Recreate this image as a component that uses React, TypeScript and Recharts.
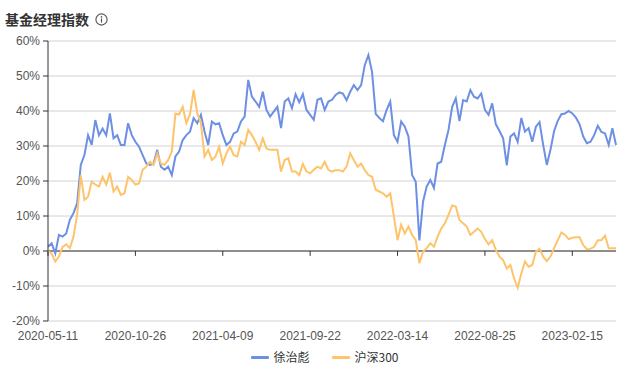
import { LineChart, Line, XAxis, YAxis, CartesianGrid, ReferenceLine } from "recharts";

const TITLE = "基金经理指数";
const SERIES_NAMES = ["徐治彪", "沪深300"];
const COLORS = ["#6d8fe4", "#fdc46c"];

const X_TICKS = [0, 24, 48, 72, 96, 120, 144];
const X_LABELS = ["2020-05-11", "2020-10-26", "2021-04-09", "2021-09-22", "2022-03-14", "2022-08-25", "2023-02-15"];
const Y_TICKS = [-20, -10, 0, 10, 20, 30, 40, 50, 60];

// 徐治彪 (%)
const MANAGER = [
  1.2, 2.2, -0.7, 4.6, 4.1, 5.0, 8.9, 10.8, 13.6, 24.6, 27.4, 33.1, 30.3, 37.4, 33.1, 35.0, 33.1, 39.3, 32.2, 33.1,
  30.3, 30.3, 36.5, 33.1, 31.2, 29.8, 27.4, 25.0, 24.6, 25.0, 28.9, 24.1, 23.2, 24.1, 21.7, 27.0, 28.4, 31.7, 33.1, 34.1,
  38.0, 36.5, 38.9, 34.1, 30.3, 37.0, 36.2, 36.5, 33.1, 30.3, 31.2, 33.6, 34.1, 37.0, 38.4, 48.9, 44.1, 42.7, 41.2, 45.5,
  40.3, 38.4, 39.8, 41.2, 35.1, 42.7, 43.6, 40.8, 44.8, 42.5, 44.8, 40.3, 38.9, 37.5, 43.2, 43.6, 40.3, 42.7, 43.2, 44.6,
  45.3, 45.0, 43.1, 45.5, 47.4, 46.0, 47.4, 53.1, 56.0, 51.2, 39.2, 38.0, 37.1, 40.3, 42.7, 33.1, 31.2, 37.0, 35.5, 32.7,
  21.7, 19.8, 3.0, 14.1, 18.4, 20.3, 18.0, 25.0, 25.5, 30.3, 34.6, 41.2, 43.6, 37.1, 43.1, 42.7, 46.0, 44.1, 43.6, 45.0,
  40.3, 38.9, 42.2, 36.2, 34.3, 32.2, 24.5, 32.7, 33.6, 31.2, 38.0, 34.1, 35.1, 31.2, 35.5, 36.8, 30.3, 24.6, 28.9, 34.3,
  37.2, 39.1, 39.3, 40.0, 39.3, 38.1, 36.2, 32.7, 30.8, 31.2, 33.1, 35.8, 34.0, 33.6, 30.3, 35.1, 30.3,
];

// 沪深300 (%)
const CSI300 = [
  0, -0.7, -3.0, -1.6, 1.2, 1.9, 0.8, 4.1, 10.3, 21.7, 14.6, 15.5, 19.8, 19.0, 18.4, 21.2, 19.0, 22.4, 17.0, 18.4,
  16.0, 16.5, 21.2, 20.3, 19.0, 19.3, 23.2, 24.1, 25.5, 24.6, 27.9, 25.0, 24.6, 26.0, 28.4, 39.3, 39.0, 41.2, 36.5, 39.0,
  46.0, 39.3, 36.5, 27.0, 28.9, 26.0, 27.0, 29.8, 25.0, 27.9, 29.8, 27.4, 27.0, 31.2, 30.3, 34.6, 33.1, 31.2, 28.9, 32.2,
  29.3, 28.9, 28.9, 28.9, 22.7, 26.0, 26.5, 22.7, 22.7, 21.7, 24.9, 22.7, 22.2, 23.2, 24.1, 23.6, 25.5, 23.2, 22.7, 23.1,
  23.1, 22.7, 24.1, 27.9, 26.0, 24.1, 25.0, 23.1, 21.7, 21.2, 17.5, 17.0, 16.5, 15.5, 16.5, 9.8, 3.1, 7.5, 5.0, 7.0,
  4.6, 3.1, -3.5, -0.2, 0.8, 2.2, 1.2, 4.1, 6.4, 7.9, 10.3, 13.0, 12.7, 8.9, 7.9, 7.0, 4.6, 5.5, 6.4, 5.5,
  3.4, 1.9, 3.1, 0.3, -1.6, -2.6, -5.0, -4.0, -7.8, -10.5, -6.4, -3.0, -4.5, -4.0, -0.2, 0.6, -1.6, -2.9, -1.6, 0.8,
  3.1, 5.3, 4.6, 3.4, 3.8, 3.9, 3.9, 1.7, 0.5, 0.6, 1.2, 3.1, 3.1, 4.4, 0.8, 0.8, 0.8,
];

const FONT = '"Noto Sans CJK SC", "Noto Sans", sans-serif';
const NUM_FONT = '"Liberation Sans", "DejaVu Sans", sans-serif';

const data = MANAGER.map((v, i) => ({ i, manager: v, csi: CSI300[i] }));

function XTick(props: any) {
  const { x, y, payload } = props;
  const label = X_LABELS[X_TICKS.indexOf(payload.value)];
  return (
    <text x={x} y={y} dy={11} textAnchor="middle" fill="#555" fontSize={12} fontFamily={NUM_FONT}>
      {label}
    </text>
  );
}

export default function App() {
  return (
    <div style={{ position: "relative", width: 633, height: 377, background: "#fff", fontFamily: FONT }}>
      <style>{"body{margin:0}"}</style>
      <div style={{ position: "absolute", left: 5, top: 9, display: "flex", alignItems: "center", gap: 6 }}>
        <span style={{ fontSize: 14, fontWeight: 700, color: "#333", lineHeight: "20px" }}>{TITLE}</span>
        <svg width={13} height={13} viewBox="0 0 13 13">
          <circle cx={6.5} cy={6.5} r={5.6} fill="none" stroke="#555" strokeWidth={1.1} />
          <circle cx={6.5} cy={3.9} r={0.8} fill="#555" />
          <rect x={5.9} y={5.4} width={1.2} height={4.2} fill="#555" />
        </svg>
      </div>
      <LineChart width={633} height={377} data={data} margin={{ top: 41, right: 17, bottom: 31, left: 0 }}>
        <CartesianGrid vertical={false} stroke="#d2d2d2" />
        <XAxis
          dataKey="i"
          type="number"
          domain={[0, MANAGER.length - 1]}
          ticks={X_TICKS}
          tick={<XTick />}
          axisLine={false}
          tickLine={false}
          height={25}
          interval={0}
        />
        <YAxis
          type="number"
          domain={[-20, 60]}
          ticks={Y_TICKS}
          width={48}
          tickFormatter={(v: number) => `${v}%`}
          tick={{ fill: "#555", fontSize: 12, fontFamily: NUM_FONT }}
          axisLine={{ stroke: "#333" }}
          tickLine={{ stroke: "#333" }}
          tickSize={5}
          tickMargin={3}
          interval={0}
        />
        <ReferenceLine y={0} stroke="#333" />
        {X_TICKS.map((t) => (
          <ReferenceLine
            key={t}
            segment={[
              { x: t, y: 0 },
              { x: t, y: -1.4 },
            ]}
            stroke="#333"
          />
        ))}
        <Line
          type="linear"
          dataKey="manager"
          name={SERIES_NAMES[0]}
          stroke={COLORS[0]}
          strokeWidth={2}
          dot={false}
          isAnimationActive={false}
        />
        <Line
          type="linear"
          dataKey="csi"
          name={SERIES_NAMES[1]}
          stroke={COLORS[1]}
          strokeWidth={2}
          dot={false}
          isAnimationActive={false}
        />
      </LineChart>
      <div
        style={{
          position: "absolute",
          left: 8,
          top: 349,
          width: 633,
          display: "flex",
          justifyContent: "center",
          gap: 22,
          fontSize: 12,
          color: "#333",
        }}
      >
        {SERIES_NAMES.map((name, k) => (
          <div key={name} style={{ display: "flex", alignItems: "center", gap: 5 }}>
            <span style={{ display: "inline-block", width: 18, height: 3, background: COLORS[k], borderRadius: 1 }} />
            <span style={{ lineHeight: "16px" }}>{name}</span>
          </div>
        ))}
      </div>
    </div>
  );
}
